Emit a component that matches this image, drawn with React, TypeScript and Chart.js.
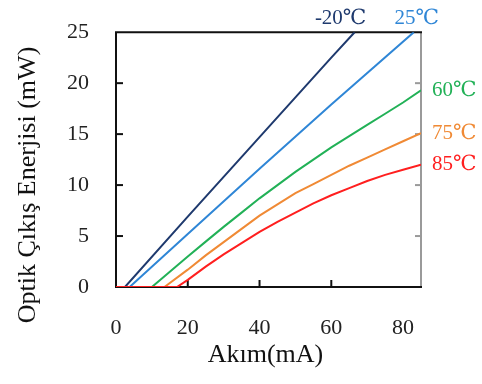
import React, { useEffect, useRef } from "react";
import { Chart, registerables } from "chart.js";

Chart.register(...registerables);

// Data (current in mA, optical output power in mW)
const seriesLabels = ["-20℃", "25℃", "60℃", "75℃", "85℃"];
const seriesColors = ["#1f3a6e", "#2f86d6", "#22b157", "#f08a35", "#ff1f1f"];

const currentM20 = [0, 2.5, 20, 40, 60, 66.5];
const powerM20 = [0, 0, 6.9, 14.7, 22.5, 25];

const current25 = [0, 3.8, 20, 40, 60, 83];
const power25 = [0, 0, 5.2, 11.6, 17.9, 25];

const current60 = [0, 10, 15, 20, 25, 30, 35, 40, 45, 50, 55, 60, 65, 70, 75, 80, 85];
const power60 = [0, 0, 1.5, 3.0, 4.45, 5.9, 7.3, 8.7, 10.0, 11.3, 12.5, 13.7, 14.8, 15.9, 17.0, 18.1, 19.3];

const current75 = [0, 13.5, 20, 25, 30, 35, 40, 45, 50, 55, 60, 65, 70, 75, 80, 85];
const power75 = [0, 0, 1.7, 3.1, 4.4, 5.7, 7.0, 8.1, 9.2, 10.1, 11.0, 11.9, 12.7, 13.5, 14.3, 15.1];

const current85 = [0, 17, 20, 25, 30, 35, 40, 45, 50, 55, 60, 65, 70, 75, 80, 85];
const power85 = [0, 0, 0.7, 2.0, 3.2, 4.3, 5.4, 6.4, 7.3, 8.2, 9.0, 9.7, 10.4, 11.0, 11.5, 12.0];

const xTicks = [0, 20, 40, 60, 80];
const yTicks = [0, 5, 10, 15, 20, 25];
const xTitle = "Akım(mA)";
const yTitle = "Optik Çıkış Enerjisi (mW)";

const SERIF = '"Liberation Serif", "DejaVu Serif", "Noto Sans CJK JP", serif';

function pts(xs: number[], ys: number[]) {
  return xs.map((x, i) => ({ x, y: ys[i] }));
}

export default function App() {
  const ref = useRef<HTMLCanvasElement | null>(null);

  useEffect(() => {
    if (!ref.current) return;
    const allData = [
      pts(currentM20, powerM20),
      pts(current25, power25),
      pts(current60, power60),
      pts(current75, power75),
      pts(current85, power85),
    ];

    const framePlugin = {
      id: "frame",
      beforeDatasetsDraw(chart: any) {
        const { ctx, chartArea: a, scales } = chart;
        ctx.save();
        ctx.lineWidth = 2;
        ctx.strokeStyle = "#9a9a9a";
        ctx.beginPath();
        ctx.moveTo(a.right, a.top);
        ctx.lineTo(a.right, a.bottom);
        ctx.stroke();
        yTicks.forEach((v) => {
          if (v === 0 || v === 25) return;
          const y = scales.y.getPixelForValue(v);
          ctx.beginPath();
          ctx.moveTo(a.right, y);
          ctx.lineTo(a.right - 6, y);
          ctx.stroke();
        });
        ctx.strokeStyle = "#111";
        ctx.beginPath();
        ctx.moveTo(a.right + 1, a.top);
        ctx.lineTo(a.left, a.top);
        ctx.lineTo(a.left, a.bottom);
        ctx.lineTo(a.right + 1, a.bottom);
        ctx.stroke();
        yTicks.forEach((v) => {
          if (v === 0 || v === 25) return;
          const y = scales.y.getPixelForValue(v);
          ctx.beginPath();
          ctx.moveTo(a.left, y);
          ctx.lineTo(a.left + 7, y);
          ctx.stroke();
        });
        xTicks.forEach((v) => {
          if (v === 0 || v === 80) return;
          const x = scales.x.getPixelForValue(v);
          ctx.beginPath();
          ctx.moveTo(x, a.bottom);
          ctx.lineTo(x, a.bottom - 7);
          ctx.stroke();
        });
        ctx.restore();
      },
      afterDraw(chart: any) {
        const { ctx, chartArea: a, scales } = chart;
        ctx.save();
        ctx.textBaseline = "middle";
        ctx.font = `21px ${SERIF}`;
        allData.forEach((d, i) => {
          const last = d[d.length - 1];
          const px = scales.x.getPixelForValue(last.x);
          const py = scales.y.getPixelForValue(last.y);
          ctx.fillStyle = seriesColors[i];
          if (i === 0) {
            ctx.textAlign = "center";
            ctx.fillText(seriesLabels[i], px - 14, a.top - 14);
          } else if (i === 1) {
            ctx.textAlign = "center";
            ctx.fillText(seriesLabels[i], px + 3, a.top - 14);
          } else {
            ctx.textAlign = "left";
            ctx.fillText(seriesLabels[i], a.right + 11, py);
          }
        });
        ctx.fillStyle = "#111";
        ctx.font = `26px ${SERIF}`;
        ctx.textAlign = "center";
        ctx.fillText(xTitle, (a.left + a.right) / 2 - 3, 355);
        ctx.translate(28, 185);
        ctx.rotate(-Math.PI / 2);
        ctx.fillText(yTitle, 0, 0);
        ctx.restore();
      },
    };

    const chart = new Chart(ref.current, {
      type: "line",
      data: {
        datasets: allData
          .map((d, i) => ({
            label: seriesLabels[i],
            data: d,
            borderColor: seriesColors[i],
            backgroundColor: seriesColors[i],
            borderWidth: 2,
            pointRadius: 0,
            tension: 0,
            fill: false,
          }))
          .reverse(),
      },
      options: {
        responsive: false,
        animation: false,
        layout: { padding: { top: 29, right: 61, left: 0, bottom: 0 } },
        plugins: { legend: { display: false }, tooltip: { enabled: false } },
        scales: {
          x: {
            type: "linear",
            min: 0,
            max: 85,
            afterFit: (s: any) => {
              s.height = 97;
            },
            afterBuildTicks: (s: any) => {
              s.ticks = xTicks.map((v) => ({ value: v }));
            },
            grid: { display: false },
            border: { display: false },
            ticks: {
              padding: 20,
              color: "#222",
              font: { family: SERIF, size: 22 },
            },
          },
          y: {
            type: "linear",
            min: 0,
            max: 25,
            afterFit: (s: any) => {
              s.width = 116;
            },
            afterBuildTicks: (s: any) => {
              s.ticks = yTicks.map((v) => ({ value: v }));
            },
            grid: { display: false },
            border: { display: false },
            ticks: {
              padding: 19,
              color: "#222",
              font: { family: SERIF, size: 22 },
            },
          },
        },
      },
      plugins: [framePlugin],
    });
    return () => chart.destroy();
  }, []);

  return (
    <div style={{ position: "absolute", left: 0, top: 0, width: 482, height: 384, background: "#fff" }}>
      <canvas ref={ref} width={482} height={384} />
    </div>
  );
}
